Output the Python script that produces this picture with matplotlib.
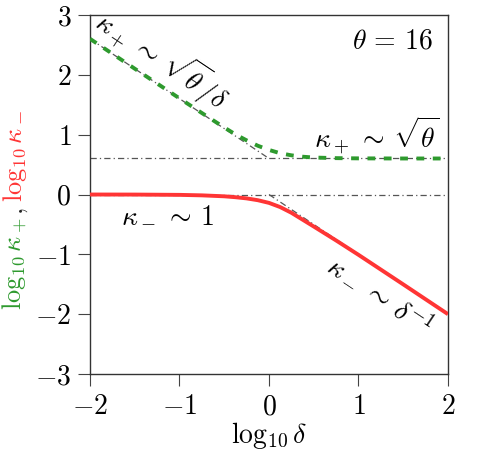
import matplotlib
matplotlib.use("Agg")
import matplotlib.pyplot as plt

plt.rcParams["mathtext.fontset"] = "cm"
plt.rcParams["font.family"] = "serif"
plt.rcParams["font.serif"] = ["cmr10", "DejaVu Serif"]
plt.rcParams["axes.formatter.use_mathtext"] = True

# ── Data ─────────────────────────────────────────────────────────────────────
log_delta = [-2.0, -1.5, -1.0, -0.75, -0.5, -0.375, -0.25, -0.125, 0.0,
             0.125, 0.25, 0.375, 0.5, 0.75, 1.0, 1.5, 2.0]
log_kappa_plus = [2.602, 2.103, 1.607, 1.362, 1.120, 1.005, 0.905, 0.815, 0.745,
                  0.690, 0.655, 0.632, 0.618, 0.608, 0.604, 0.602, 0.602]
log_kappa_minus = [0.0, -0.001, -0.006, -0.014, -0.030, -0.045, -0.065, -0.095, -0.140,
                   -0.210, -0.305, -0.420, -0.535, -0.768, -1.008, -1.502, -2.0]

# asymptotes (end points)
asym_plus_small_x = [-2.0, 0.0]
asym_plus_small_y = [2.602, 0.602]
asym_plus_flat_y = 0.602
asym_minus_flat_y = 0.0
asym_minus_large_x = [0.0, 2.0]
asym_minus_large_y = [0.0, -2.0]

xticks = [-2, -1, 0, 1, 2]
yticks = [-3, -2, -1, 0, 1, 2, 3]

GREEN = "#2e9a2e"
RED = "#ff3535"
GREY = "#555555"
FS = 20

fig = plt.figure(figsize=(4.91, 4.55), dpi=100)
ax = fig.add_axes([0.1833, 0.178, 0.7291, 0.789])

# ── Asymptotes ──────────────────────────────────────────────────────────────
dashdot = dict(color=GREY, lw=0.9, dashes=(5, 2.5, 1, 2.5), zorder=2)
ax.axhline(asym_plus_flat_y, **dashdot)
ax.axhline(asym_minus_flat_y, **dashdot)
ax.plot(asym_plus_small_x, asym_plus_small_y, **dashdot)
ax.plot(asym_minus_large_x, asym_minus_large_y, **dashdot)

# ── Curves ──────────────────────────────────────────────────────────────────
ax.plot(log_delta, log_kappa_minus, color=RED, lw=2.8, zorder=3,
        solid_capstyle="butt")
ax.plot(log_delta, log_kappa_plus, color=GREEN, lw=2.8, dashes=(2.0, 2.2),
        zorder=4)

ax.set_xlim(-2, 2)
ax.set_ylim(-3, 3)
ax.set_xticks(xticks)
ax.set_yticks(yticks)
ax.set_xticklabels([rf"${t}$" if t >= 0 else rf"$-{abs(t)}$" for t in xticks], fontsize=FS)
ax.set_yticklabels([rf"${t}$" if t >= 0 else rf"$-{abs(t)}$" for t in yticks], fontsize=FS)
ax.tick_params(direction="out", length=8.5, width=0.8, color="#444444", pad=5)
ax.tick_params(axis="x", pad=6)
for sp in ax.spines.values():
    sp.set_linewidth(1.0)
    sp.set_color("#333333")

ax.set_xlabel(r"$\log_{10}\delta$", fontsize=FS, labelpad=0)

# ── Annotations ─────────────────────────────────────────────────────────────
ax.text(1.83, 2.56, r"$\theta\,=\,16$", fontsize=FS, ha="right", va="center")
ax.text(-1.18, 2.27, r"$\kappa_+\,\sim\,\sqrt{\theta}/\delta$", fontsize=FS,
        rotation=-33.7, rotation_mode="anchor", ha="center", va="center")
ax.text(1.2, 1.0, r"$\kappa_+\,\sim\,\sqrt{\theta}$", fontsize=FS,
        ha="center", va="center")
ax.text(-1.13, -0.33, r"$\kappa_-\,\sim\,1$", fontsize=FS, ha="center", va="center")
ax.text(1.24, -1.69, r"$\kappa_-\,\sim\,\delta^{-1}$", fontsize=FS,
        rotation=-33.7, rotation_mode="anchor", ha="center", va="center")

# ── Two-coloured y label ────────────────────────────────────────────────────
LFS = 19
LX = 15 / 491
H = fig.bbox.height
t1 = fig.text(LX, 1 - 310 / H, r"$\log_{10}\kappa_+$", color=GREEN,
              fontsize=LFS, rotation=90, ha="center", va="bottom")
fig.canvas.draw()
bb = t1.get_window_extent()
t2 = fig.text(LX + 3 / 491, (bb.y1 + 2) / H, r"$,$", color="#222222",
              fontsize=LFS, rotation=90, ha="center", va="bottom")
fig.canvas.draw()
bb = t2.get_window_extent()
fig.text(LX, (bb.y1 + 6) / H, r"$\log_{10}\kappa_-$", color=RED,
         fontsize=LFS, rotation=90, ha="center", va="bottom")

fig.savefig("out.png", dpi=100)
